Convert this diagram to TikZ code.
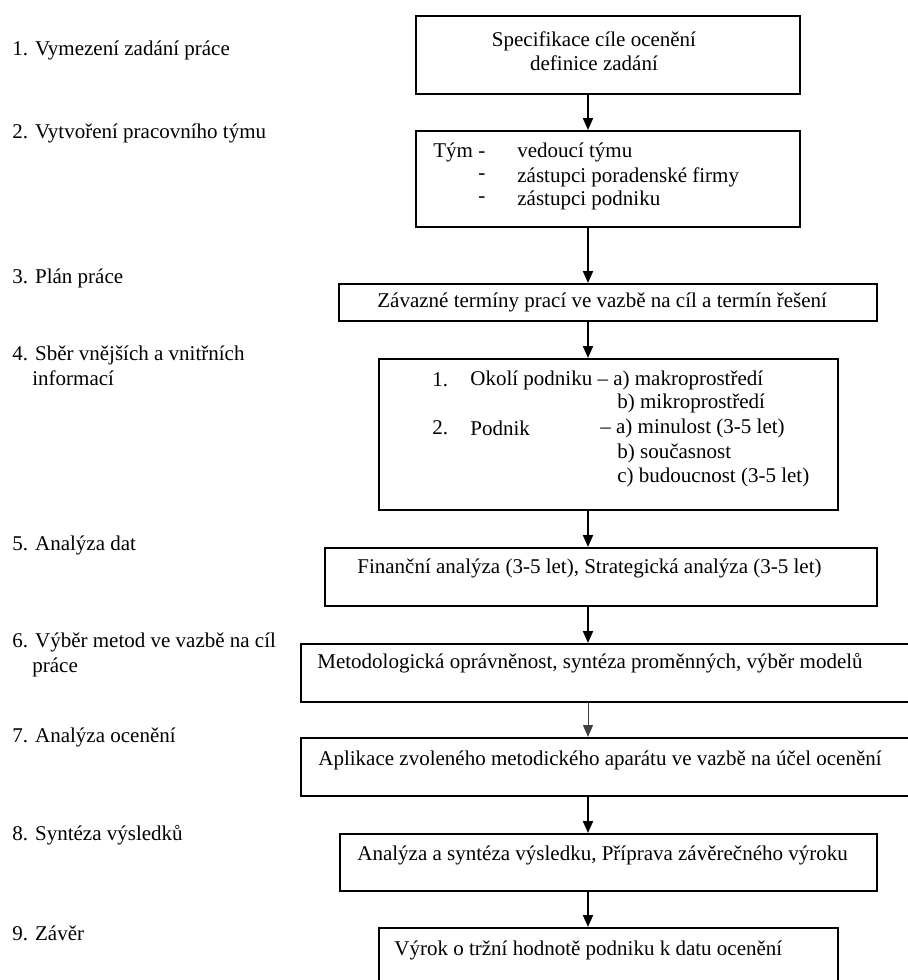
\documentclass[tikz,border=0pt]{standalone}
\usepackage{fontspec}
\setmainfont{Liberation Serif}
\usetikzlibrary{arrows.meta}
\begin{document}
\begin{tikzpicture}[x=0.5pt,y=-0.5pt,
  box/.style={draw, line width=1pt, anchor=north west, inner sep=0pt},
  txt/.style={anchor=west, inner sep=0pt, font=\fontsize{10.5}{12}\selectfont},
  ctxt/.style={inner sep=0pt, align=center, font=\fontsize{10.5}{12}\selectfont},
  arr/.style={line width=1pt, -{Triangle[length=6pt,width=5pt]}},
  thinarr/.style={line width=0.5pt, draw=black!75, -{Triangle[length=6pt,width=5pt]}},
]
\useasboundingbox (0,0) rectangle (907,980);
\coordinate (ax) at (588,0);

% boxes
\node[box, minimum width=192pt, minimum height=39pt] (b1) at (415,15) {};
\node[box, minimum width=192pt, minimum height=48pt] (b2) at (415,130) {};
\node[box, minimum width=269pt, minimum height=18.5pt] (b3) at (338,283) {};
\node[box, minimum width=229.5pt, minimum height=75.5pt] (b4) at (378,358) {};
\node[box, minimum width=276pt, minimum height=29pt] (b5) at (324,547) {};
\node[box, minimum width=310pt, minimum height=29pt] (b6) at (300,643) {};
\node[box, minimum width=310pt, minimum height=29pt] (b7) at (300,737) {};
\node[box, minimum width=268.5pt, minimum height=28.5pt] (b8) at (339,833) {};
\node[box, minimum width=229.5pt, minimum height=40pt] (b9) at (378,927) {};

% arrows
\draw[arr] (b1.south -| ax) -- (b2.north -| ax);
\draw[arr] (b2.south -| ax) -- (b3.north -| ax);
\draw[arr] (b3.south -| ax) -- (b4.north -| ax);
\draw[arr] (b4.south -| ax) -- (b5.north -| ax);
\draw[arr] (b5.south -| ax) -- (b6.north -| ax);
\draw[thinarr] (b6.south -| ax) -- (b7.north -| ax);
\draw[arr] (b7.south -| ax) -- (b8.north -| ax);
\draw[arr] (b8.south -| ax) -- (b9.north -| ax);

% box texts
\node[ctxt] (t1) at (594,51) {Specifikace cíle ocenění\\definice zadání};
\node[txt] (t2a) at (433,152) {Tým -};
\node[txt] (t2b) at (517,152) {vedoucí týmu};
\node[txt] (t2c) at (478,177) {-};
\node[txt] (t2d) at (517,177) {zástupci poradenské firmy};
\node[txt] (t2e) at (478,200) {-};
\node[txt] (t2f) at (517,200) {zástupci podniku};
\node[txt] (t3) at (377,302) {Závazné termíny prací ve vazbě na cíl a termín řešení};
\node[txt] (t4a) at (432,380) {1.};
\node[txt] (t4b) at (470,380) {Okolí podniku – a) makroprostředí};
\node[txt] (t4c) at (617,403) {b) mikroprostředí};
\node[txt] (t4d) at (432,428) {2.};
\node[txt] (t4e) at (470,428) {Podnik};
\node[txt] (t4f) at (600,428) {– a) minulost (3-5 let)};
\node[txt] (t4g) at (617,453) {b) současnost};
\node[txt] (t4h) at (617,477) {c) budoucnost (3-5 let)};
\node[txt] (t5) at (357,568) {Finanční analýza (3-5 let), Strategická analýza (3-5 let)};
\node[txt] (t6) at (317,663) {Metodologická oprávněnost, syntéza proměnných, výběr modelů};
\node[txt] (t7) at (318,760) {Aplikace zvoleného metodického aparátu ve vazbě na účel ocenění};
\node[txt] (t8) at (357,855) {Analýza a syntéza výsledku, Příprava závěrečného výroku};
\node[txt] (t9) at (394,950) {Výrok o tržní hodnotě podniku k datu ocenění};

% step labels
\node[txt] (l1) at (12,50) {1. Vymezení zadání práce};
\node[txt] (l2) at (12,133) {2. Vytvoření pracovního týmu};
\node[txt] (l3) at (12,278) {3. Plán práce};
\node[txt] (l4) at (12,355) {4. Sběr vnějších a vnitřních};
\node[txt] (l4b) at (32,378) {informací};
\node[txt] (l5) at (12,545) {5. Analýza dat};
\node[txt] (l6) at (12,642) {6. Výběr metod ve vazbě na cíl};
\node[txt] (l6b) at (32,667) {práce};
\node[txt] (l7) at (12,737) {7. Analýza ocenění};
\node[txt] (l8) at (12,835) {8. Syntéza výsledků};
\node[txt] (l9) at (12,933) {9. Závěr};
\end{tikzpicture}
\end{document}
